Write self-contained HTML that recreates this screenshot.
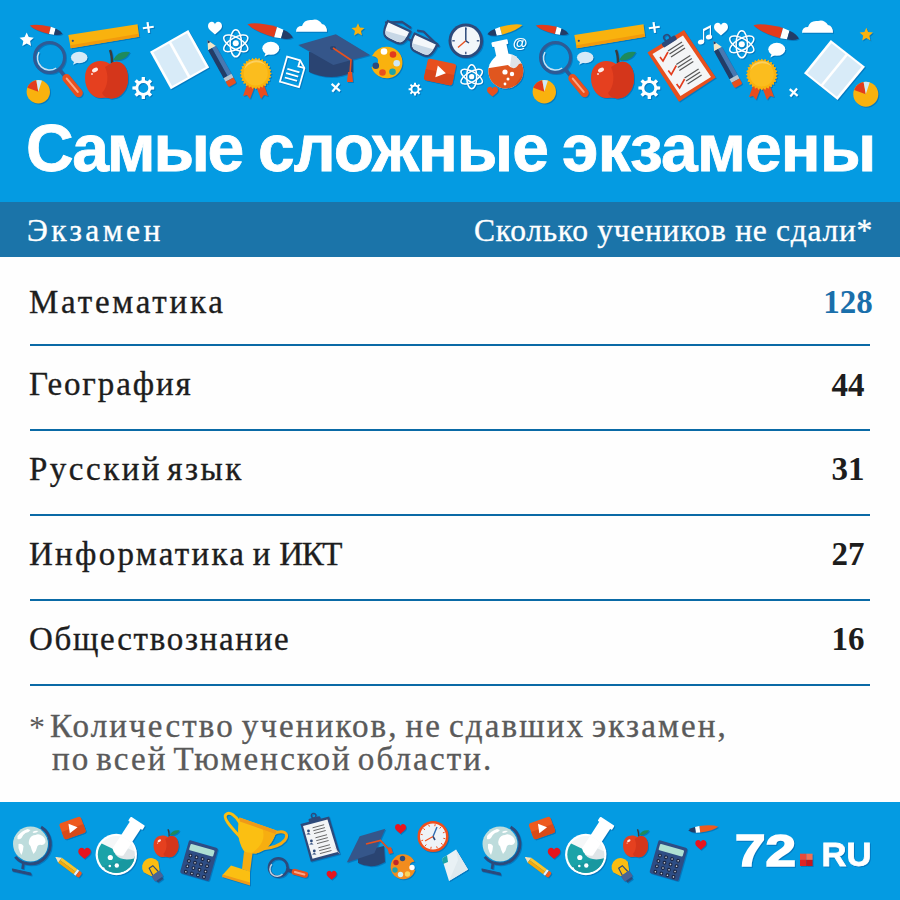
<!DOCTYPE html>
<html><head><meta charset="utf-8">
<style>
html,body{margin:0;padding:0;}
body{width:900px;height:900px;position:relative;overflow:hidden;background:#fefefe;font-family:"Liberation Serif",serif;}
.band{position:absolute;left:0;width:900px;}
#top{top:0;height:202px;background:#049be2;}
#hdr{top:202px;height:55px;background:#1b74a9;}
#foot{top:802px;height:98px;background:#049be2;}
.t{position:absolute;white-space:nowrap;line-height:1;}
.title{font-family:"Liberation Sans",sans-serif;font-weight:700;font-size:66px;color:#fff;top:115px;-webkit-text-stroke:0.8px #fff;}
.h{font-size:31.5px;color:#fff;top:215px;-webkit-text-stroke:0.35px #fff;}
.row{font-size:33px;color:#1d1d1d;left:29px;-webkit-text-stroke:0.35px #1d1d1d;}
.num{font-size:33px;font-weight:700;color:#1d1d1d;left:798px;width:100px;text-align:center;}
.line{position:absolute;left:30px;width:840px;height:2px;background:#0a6aa6;}
.note{font-size:33px;color:#5a5a5a;-webkit-text-stroke:0.35px #5a5a5a;}
svg{position:absolute;left:0;top:0;filter:drop-shadow(1px 1.2px 0.6px rgba(0,80,150,0.45));}
</style></head>
<body>
<div class="band" id="top"></div>
<div class="band" id="hdr"></div>
<div class="band" id="foot"></div>

<svg id="icons" width="900" height="900" viewBox="0 0 900 900"><g transform="translate(29.7,25.5) rotate(13.7) scale(0.993)"><path d="M0,0 Q6,-3.6 21,-3.8 L21,3.8 Q6,3.6 0,0 Z" fill="#e23b1c"/><path d="M21,-3.8 L21,3.8 L26,3.2 L26,-3.2 Z" fill="#fff"/><path d="M26,-3.2 Q31,-2.5 34,0.3 Q31,3 26,3.2 Z" fill="#233c66"/></g><polygon points="68.3,35 137.5,24.2 139.2,36.7 70.8,48.3" fill="#f9b20e" /><polygon points="70.3,45.3 138.7,33.7 139.2,36.7 70.8,48.3" fill="#f29a0c" /><circle cx="72.8" cy="40.8" r="1.1" fill="#2d4a7b"/><g transform="translate(148.3,27.5) rotate(-8)" stroke="#ffffff" stroke-width="2.2" stroke-linecap="butt"><line x1="-5.5" y1="0" x2="5.5" y2="0"/><line x1="0" y1="-5.5" x2="0" y2="5.5"/></g><circle cx="49.5" cy="57.5" r="15" fill="none" stroke="#2f5a94" stroke-width="3"/><path d="M39.0,52.2 A12.0,12.0 0 0,0 56.2,68.0" fill="none" stroke="#c9e2f3" stroke-width="1.5"/><g transform="translate(49.5,57.5) rotate(50.6)"><rect x="15" y="-1.8" width="8.8" height="3.6" fill="#2f5a94"/><rect x="22.7" y="-4.25" width="27.4" height="8.5" rx="4.25" fill="#e8501e"/><rect x="26.2" y="-1" width="19.3" height="2" rx="1" fill="#f7a88a"/></g><ellipse cx="79.2" cy="57.5" rx="8.3" ry="5.8" fill="#d6eaf7"/><path d="M74.635,60.4 L72.97500000000001,64.75 L78.37,62.14 Z" fill="#d6eaf7"/><g transform="translate(106,79) scale(1.0)"><path d="M6,-16 Q6,-24 4,-29" stroke="#3b3b3b" stroke-width="2.4" fill="none"/><path d="M7,-19 Q12,-29 24,-27 Q19,-17 7,-19 Z" fill="#1e8a5c"/><path d="M4,-15 C-4,-21 -21,-19 -21,-1 C-21,12 -12,20 -4,19 C0,18.5 2,18.5 5,19.5 C14,20 22,11 22,0 C22,-17 11,-20 4,-15 Z" fill="#e5401f"/><path d="M4,-15 C11,-20 22,-17 22,0 C22,11 14,20 5,19.5 C0,19 -3,17 -4,14 C2,8 3,-4 -1,-12 Z" fill="#d4361b"/><ellipse cx="-11" cy="-9" rx="3.2" ry="2" transform="rotate(-30 -11 -9)" fill="#fff" opacity="0.9"/><circle cx="-14" cy="-5" r="1" fill="#fff" opacity="0.8"/></g><circle cx="38.3" cy="91.7" r="11.7" fill="#f9b20e"/><path d="M38.3,91.7 L27.3,87.7 A11.7,11.7 0 0,1 36.3,80.2 Z" fill="#e23b1c"/><path d="M38.3,91.7 L36.3,80.2 A11.7,11.7 0 0,1 41.9,80.6 Z" fill="#d0ebf7"/><path d="M151.0,86.3 L154.2,86.4 L154.2,89.6 L151.0,89.7 L150.0,92.3 L152.1,94.5 L149.8,96.8 L147.6,94.7 L145.0,95.7 L144.9,98.9 L141.7,98.9 L141.6,95.7 L139.0,94.7 L136.8,96.8 L134.5,94.5 L136.6,92.3 L135.6,89.7 L132.4,89.6 L132.4,86.4 L135.6,86.3 L136.6,83.7 L134.5,81.5 L136.8,79.2 L139.0,81.3 L141.6,80.3 L141.7,77.1 L144.9,77.1 L145.0,80.3 L147.6,81.3 L149.8,79.2 L152.1,81.5 L150.0,83.7 Z M148.3,88.0 A5.0,5.0 0 1,0 138.3,88.0 A5.0,5.0 0 1,0 148.3,88.0 Z" fill="#ffffff" fill-rule="evenodd"/><g transform="translate(506,0)"><g transform="translate(29.7,25.5) rotate(13.7) scale(0.993)"><path d="M0,0 Q6,-3.6 21,-3.8 L21,3.8 Q6,3.6 0,0 Z" fill="#e23b1c"/><path d="M21,-3.8 L21,3.8 L26,3.2 L26,-3.2 Z" fill="#fff"/><path d="M26,-3.2 Q31,-2.5 34,0.3 Q31,3 26,3.2 Z" fill="#233c66"/></g><polygon points="68.3,35 137.5,24.2 139.2,36.7 70.8,48.3" fill="#f9b20e" /><polygon points="70.3,45.3 138.7,33.7 139.2,36.7 70.8,48.3" fill="#f29a0c" /><circle cx="72.8" cy="40.8" r="1.1" fill="#2d4a7b"/><g transform="translate(148.3,27.5) rotate(-8)" stroke="#ffffff" stroke-width="2.2" stroke-linecap="butt"><line x1="-5.5" y1="0" x2="5.5" y2="0"/><line x1="0" y1="-5.5" x2="0" y2="5.5"/></g><circle cx="49.5" cy="57.5" r="15" fill="none" stroke="#2f5a94" stroke-width="3"/><path d="M39.0,52.2 A12.0,12.0 0 0,0 56.2,68.0" fill="none" stroke="#c9e2f3" stroke-width="1.5"/><g transform="translate(49.5,57.5) rotate(50.6)"><rect x="15" y="-1.8" width="8.8" height="3.6" fill="#2f5a94"/><rect x="22.7" y="-4.25" width="27.4" height="8.5" rx="4.25" fill="#e8501e"/><rect x="26.2" y="-1" width="19.3" height="2" rx="1" fill="#f7a88a"/></g><ellipse cx="79.2" cy="57.5" rx="8.3" ry="5.8" fill="#d6eaf7"/><path d="M74.635,60.4 L72.97500000000001,64.75 L78.37,62.14 Z" fill="#d6eaf7"/><g transform="translate(106,79) scale(1.0)"><path d="M6,-16 Q6,-24 4,-29" stroke="#3b3b3b" stroke-width="2.4" fill="none"/><path d="M7,-19 Q12,-29 24,-27 Q19,-17 7,-19 Z" fill="#1e8a5c"/><path d="M4,-15 C-4,-21 -21,-19 -21,-1 C-21,12 -12,20 -4,19 C0,18.5 2,18.5 5,19.5 C14,20 22,11 22,0 C22,-17 11,-20 4,-15 Z" fill="#e5401f"/><path d="M4,-15 C11,-20 22,-17 22,0 C22,11 14,20 5,19.5 C0,19 -3,17 -4,14 C2,8 3,-4 -1,-12 Z" fill="#d4361b"/><ellipse cx="-11" cy="-9" rx="3.2" ry="2" transform="rotate(-30 -11 -9)" fill="#fff" opacity="0.9"/><circle cx="-14" cy="-5" r="1" fill="#fff" opacity="0.8"/></g><circle cx="38.3" cy="91.7" r="11.7" fill="#f9b20e"/><path d="M38.3,91.7 L27.3,87.7 A11.7,11.7 0 0,1 36.3,80.2 Z" fill="#e23b1c"/><path d="M38.3,91.7 L36.3,80.2 A11.7,11.7 0 0,1 41.9,80.6 Z" fill="#d0ebf7"/><path d="M151.0,86.3 L154.2,86.4 L154.2,89.6 L151.0,89.7 L150.0,92.3 L152.1,94.5 L149.8,96.8 L147.6,94.7 L145.0,95.7 L144.9,98.9 L141.7,98.9 L141.6,95.7 L139.0,94.7 L136.8,96.8 L134.5,94.5 L136.6,92.3 L135.6,89.7 L132.4,89.6 L132.4,86.4 L135.6,86.3 L136.6,83.7 L134.5,81.5 L136.8,79.2 L139.0,81.3 L141.6,80.3 L141.7,77.1 L144.9,77.1 L145.0,80.3 L147.6,81.3 L149.8,79.2 L152.1,81.5 L150.0,83.7 Z M148.3,88.0 A5.0,5.0 0 1,0 138.3,88.0 A5.0,5.0 0 1,0 148.3,88.0 Z" fill="#ffffff" fill-rule="evenodd"/></g><polygon points="26.7,32.5 28.8,37.1 33.8,37.7 30.1,41.1 31.1,46.1 26.7,43.6 22.3,46.1 23.3,41.1 19.6,37.7 24.6,37.1" fill="#ffffff"/><polygon points="358.0,23.2 359.9,27.4 364.5,27.9 361.0,31.0 362.0,35.5 358.0,33.2 354.0,35.5 355.0,31.0 351.5,27.9 356.1,27.4" fill="#f9b20e"/><polygon points="866.3,27.7 868.2,32.0 873.0,32.5 869.4,35.7 870.4,40.4 866.3,38.0 862.2,40.4 863.2,35.7 859.6,32.5 864.4,32.0" fill="#f9b20e"/><polygon points="150,51.7 188.3,30 209.2,67.5 170.8,89.2" fill="#ffffff" /><polygon points="153.3383,52.273 169.04335,43.376000000000005 187.80565,77.126 172.0637,86.023" fill="#d8ebf8" /><polygon points="171.34165000000002,42.074 187.04670000000002,33.177 205.85129999999998,66.92699999999999 190.10934999999998,75.824" fill="#d8ebf8" /><path transform="translate(215,28.8) rotate(0) scale(0.7)" d="M0,8 C-4,4 -10,1 -10,-4 C-10,-8 -7,-10 -4.5,-10 C-2,-10 0,-8 0,-6 C0,-8 2,-10 4.5,-10 C7,-10 10,-8 10,-4 C10,1 4,4 0,8 Z" fill="#ffffff"/><g transform="translate(207.5,40) rotate(60.9)"><path d="M0,0 L9.2660671268883,-4.5 L9.2660671268883,4.5 Z" fill="#f3e6c6"/><path d="M0,0 L3.243123494410905,-1.575 L3.243123494410905,1.575 Z" fill="#233c66"/><rect x="9.2660671268883" y="-4.5" width="31.9164534370597" height="4.5" fill="#4a78b0"/><rect x="9.2660671268883" y="0" width="31.9164534370597" height="4.5" fill="#233c66"/><rect x="41.182520563948" y="-4.5" width="4.118252056394802" height="9" fill="#b9c4ce"/><path d="M45.300772620342805,-4.5 L49.978150704935004,-4.5 Q51.478150704935004,-4.5 51.478150704935004,-3.0 L51.478150704935004,3.0 Q51.478150704935004,4.5 49.978150704935004,4.5 L45.300772620342805,4.5 Z" fill="#e8501e"/></g><g transform="translate(235.8,43.3)" fill="none" stroke="#ffffff" stroke-width="1.5"><ellipse cx="0" cy="0" rx="5.7" ry="13.5" transform="rotate(0)"/><ellipse cx="0" cy="0" rx="5.7" ry="13.5" transform="rotate(60)"/><ellipse cx="0" cy="0" rx="5.7" ry="13.5" transform="rotate(120)"/><circle r="3.0" fill="#ffffff" stroke="none"/></g><g transform="translate(247.5,24.2) rotate(15.7) scale(1.390)"><path d="M0,0 Q6,-3.6 21,-3.8 L21,3.8 Q6,3.6 0,0 Z" fill="#e23b1c"/><path d="M21,-3.8 L21,3.8 L26,3.2 L26,-3.2 Z" fill="#fff"/><path d="M26,-3.2 Q31,-2.5 34,0.3 Q31,3 26,3.2 Z" fill="#233c66"/></g><ellipse cx="270.8" cy="48.3" rx="8.5" ry="6.5" fill="#ffffff"/><path d="M266.125,51.55 L264.425,56.425 L269.95,53.5 Z" fill="#ffffff"/><polygon points="271.6,73.5 269.6,75.1 271.2,77.0 268.9,78.1 270.0,80.4 267.6,80.9 268.2,83.4 265.6,83.3 265.7,85.9 263.2,85.3 262.7,87.7 260.4,86.6 259.3,88.9 257.4,87.3 255.8,89.3 254.2,87.3 252.3,88.9 251.2,86.6 248.9,87.7 248.4,85.3 245.9,85.9 246.0,83.3 243.4,83.4 244.0,80.9 241.6,80.4 242.7,78.1 240.4,77.0 242.0,75.1 240.0,73.5 242.0,71.9 240.4,70.0 242.7,68.9 241.6,66.6 244.0,66.1 243.4,63.6 246.0,63.7 245.9,61.1 248.4,61.7 248.9,59.3 251.2,60.4 252.3,58.1 254.2,59.7 255.8,57.7 257.4,59.7 259.3,58.1 260.4,60.4 262.7,59.3 263.2,61.7 265.7,61.1 265.6,63.7 268.2,63.6 267.6,66.1 270.0,66.6 268.9,68.9 271.2,70.0 269.6,71.9" fill="#f9b20e"/><path d="M248,82 L243,96 L247,95 L250,99 L255,86 Z" fill="#e84d1e"/><path d="M263,82 L268,96 L264,95 L261,99 L256,86 Z" fill="#e84d1e"/><polygon points="271.6,73.5 269.6,75.1 271.2,77.0 268.9,78.1 270.0,80.4 267.6,80.9 268.2,83.4 265.6,83.3 265.7,85.9 263.2,85.3 262.7,87.7 260.4,86.6 259.3,88.9 257.4,87.3 255.8,89.3 254.2,87.3 252.3,88.9 251.2,86.6 248.9,87.7 248.4,85.3 245.9,85.9 246.0,83.3 243.4,83.4 244.0,80.9 241.6,80.4 242.7,78.1 240.4,77.0 242.0,75.1 240.0,73.5 242.0,71.9 240.4,70.0 242.7,68.9 241.6,66.6 244.0,66.1 243.4,63.6 246.0,63.7 245.9,61.1 248.4,61.7 248.9,59.3 251.2,60.4 252.3,58.1 254.2,59.7 255.8,57.7 257.4,59.7 259.3,58.1 260.4,60.4 262.7,59.3 263.2,61.7 265.7,61.1 265.6,63.7 268.2,63.6 267.6,66.1 270.0,66.6 268.9,68.9 271.2,70.0 269.6,71.9" fill="#f9b20e"/><circle cx="255.8" cy="73.5" r="12" fill="#fbbd1e"/><path d="M244,70 A12,12 0 0,1 266,66 A14,14 0 0,0 244,70 Z" fill="#fcd060"/><path d="M325,31.7 L296,31.7 Q296,26 302,26 Q304,19 312,20 Q318,18 322,24 Q327,25 327,31.7 Z" fill="#fff"/><g transform="translate(506,1)"><path transform="translate(215,28.8) rotate(0) scale(0.7)" d="M0,8 C-4,4 -10,1 -10,-4 C-10,-8 -7,-10 -4.5,-10 C-2,-10 0,-8 0,-6 C0,-8 2,-10 4.5,-10 C7,-10 10,-8 10,-4 C10,1 4,4 0,8 Z" fill="#ffffff"/><g transform="translate(207.5,40) rotate(60.9)"><path d="M0,0 L9.2660671268883,-4.5 L9.2660671268883,4.5 Z" fill="#f3e6c6"/><path d="M0,0 L3.243123494410905,-1.575 L3.243123494410905,1.575 Z" fill="#233c66"/><rect x="9.2660671268883" y="-4.5" width="31.9164534370597" height="4.5" fill="#4a78b0"/><rect x="9.2660671268883" y="0" width="31.9164534370597" height="4.5" fill="#233c66"/><rect x="41.182520563948" y="-4.5" width="4.118252056394802" height="9" fill="#b9c4ce"/><path d="M45.300772620342805,-4.5 L49.978150704935004,-4.5 Q51.478150704935004,-4.5 51.478150704935004,-3.0 L51.478150704935004,3.0 Q51.478150704935004,4.5 49.978150704935004,4.5 L45.300772620342805,4.5 Z" fill="#e8501e"/></g><g transform="translate(235.8,43.3)" fill="none" stroke="#ffffff" stroke-width="1.5"><ellipse cx="0" cy="0" rx="5.7" ry="13.5" transform="rotate(0)"/><ellipse cx="0" cy="0" rx="5.7" ry="13.5" transform="rotate(60)"/><ellipse cx="0" cy="0" rx="5.7" ry="13.5" transform="rotate(120)"/><circle r="3.0" fill="#ffffff" stroke="none"/></g><g transform="translate(247.5,24.2) rotate(15.7) scale(1.390)"><path d="M0,0 Q6,-3.6 21,-3.8 L21,3.8 Q6,3.6 0,0 Z" fill="#e23b1c"/><path d="M21,-3.8 L21,3.8 L26,3.2 L26,-3.2 Z" fill="#fff"/><path d="M26,-3.2 Q31,-2.5 34,0.3 Q31,3 26,3.2 Z" fill="#233c66"/></g><ellipse cx="270.8" cy="48.3" rx="8.5" ry="6.5" fill="#ffffff"/><path d="M266.125,51.55 L264.425,56.425 L269.95,53.5 Z" fill="#ffffff"/><polygon points="271.6,73.5 269.6,75.1 271.2,77.0 268.9,78.1 270.0,80.4 267.6,80.9 268.2,83.4 265.6,83.3 265.7,85.9 263.2,85.3 262.7,87.7 260.4,86.6 259.3,88.9 257.4,87.3 255.8,89.3 254.2,87.3 252.3,88.9 251.2,86.6 248.9,87.7 248.4,85.3 245.9,85.9 246.0,83.3 243.4,83.4 244.0,80.9 241.6,80.4 242.7,78.1 240.4,77.0 242.0,75.1 240.0,73.5 242.0,71.9 240.4,70.0 242.7,68.9 241.6,66.6 244.0,66.1 243.4,63.6 246.0,63.7 245.9,61.1 248.4,61.7 248.9,59.3 251.2,60.4 252.3,58.1 254.2,59.7 255.8,57.7 257.4,59.7 259.3,58.1 260.4,60.4 262.7,59.3 263.2,61.7 265.7,61.1 265.6,63.7 268.2,63.6 267.6,66.1 270.0,66.6 268.9,68.9 271.2,70.0 269.6,71.9" fill="#f9b20e"/><path d="M248,82 L243,96 L247,95 L250,99 L255,86 Z" fill="#e84d1e"/><path d="M263,82 L268,96 L264,95 L261,99 L256,86 Z" fill="#e84d1e"/><polygon points="271.6,73.5 269.6,75.1 271.2,77.0 268.9,78.1 270.0,80.4 267.6,80.9 268.2,83.4 265.6,83.3 265.7,85.9 263.2,85.3 262.7,87.7 260.4,86.6 259.3,88.9 257.4,87.3 255.8,89.3 254.2,87.3 252.3,88.9 251.2,86.6 248.9,87.7 248.4,85.3 245.9,85.9 246.0,83.3 243.4,83.4 244.0,80.9 241.6,80.4 242.7,78.1 240.4,77.0 242.0,75.1 240.0,73.5 242.0,71.9 240.4,70.0 242.7,68.9 241.6,66.6 244.0,66.1 243.4,63.6 246.0,63.7 245.9,61.1 248.4,61.7 248.9,59.3 251.2,60.4 252.3,58.1 254.2,59.7 255.8,57.7 257.4,59.7 259.3,58.1 260.4,60.4 262.7,59.3 263.2,61.7 265.7,61.1 265.6,63.7 268.2,63.6 267.6,66.1 270.0,66.6 268.9,68.9 271.2,70.0 269.6,71.9" fill="#f9b20e"/><circle cx="255.8" cy="73.5" r="12" fill="#fbbd1e"/><path d="M244,70 A12,12 0 0,1 266,66 A14,14 0 0,0 244,70 Z" fill="#fcd060"/><path d="M325,31.7 L296,31.7 Q296,26 302,26 Q304,19 312,20 Q318,18 322,24 Q327,25 327,31.7 Z" fill="#fff"/></g><g transform="translate(286.5,55.5) rotate(16) scale(0.9)" fill="none" stroke="#fff" stroke-width="2"><path d="M1,1 L16,1 L23,8 L23,30 L1,30 Z"/><path d="M16,1 L16,8 L23,8" /><line x1="5" y1="14" x2="19" y2="14"/><line x1="5" y1="19" x2="19" y2="19"/><line x1="5" y1="24" x2="19" y2="24"/></g><path d="M309,52 L353,54 L353,72 Q331,82 309,72 Z" fill="#2a4472"/><polygon points="298.3,45 335.8,34.2 370,55 333.3,65" fill="#35568a" /><ellipse cx="333" cy="48" rx="3" ry="2" fill="#2a4472"/><path d="M333,48 L351,60 L350,74" stroke="#e8501e" stroke-width="1.6" fill="none"/><path d="M348,72 L352,72 L353,82 L347,82 Z" fill="#e8501e"/><g transform="translate(335.8,87.5) rotate(40)" stroke="#ffffff" stroke-width="2.2" stroke-linecap="butt"><line x1="-5.5" y1="0" x2="5.5" y2="0"/><line x1="0" y1="-5.5" x2="0" y2="5.5"/></g><path d="M386.7,46.7 A15.8,15.8 0 1,1 371.5,67 Q377,66 378,62 Q379,57 372,56 A15.8,15.8 0 0,1 386.7,46.7 Z" fill="#f9b20e"/><circle cx="384" cy="51.5" r="3.3" fill="#fff"/><circle cx="393" cy="54.5" r="3.3" fill="#e23b1c"/><circle cx="396.7" cy="63.3" r="3.3" fill="#cfe8f5"/><circle cx="392.5" cy="71.7" r="3.3" fill="#1fa3a6"/><circle cx="382.5" cy="72.5" r="3.3" fill="#e8501e"/><circle cx="375.8" cy="65.8" r="3.3" fill="#2d4a7b"/><path d="M385,22.5 L402,21.8 L411,28" fill="none" stroke="#2d4a7b" stroke-width="2.2" stroke-linejoin="round"/><path d="M417,30.5 L423.5,31.5 L439,46.5" fill="none" stroke="#2d4a7b" stroke-width="2.2" stroke-linejoin="round"/><g transform="translate(396,33) rotate(25)"><path d="M-12.5,-7.5 L12.5,-7.5 Q13,2 10,6 Q8,8.5 4,8.5 L-4,8.5 Q-8,8.5 -10,6 Q-13,2 -12.5,-7.5 Z" fill="#f4f7fa" stroke="#2d4a7b" stroke-width="2.2" stroke-linejoin="round"/><path d="M-10.5,2.5 L11,-1 Q11,3 9,5.5 Q7.5,7.2 4,7.2 L-4,7.2 Q-7.5,7.2 -9,5.5 Z" fill="#c7d7e6"/></g><g transform="translate(422.8,45.5) rotate(25)"><path d="M-12.5,-7.5 L12.5,-7.5 Q13,2 10,6 Q8,8.5 4,8.5 L-4,8.5 Q-8,8.5 -10,6 Q-13,2 -12.5,-7.5 Z" fill="#f4f7fa" stroke="#2d4a7b" stroke-width="2.2" stroke-linejoin="round"/><path d="M-10.5,2.5 L11,-1 Q11,3 9,5.5 Q7.5,7.2 4,7.2 L-4,7.2 Q-7.5,7.2 -9,5.5 Z" fill="#c7d7e6"/></g><line x1="406" y1="38" x2="412" y2="41" stroke="#2d4a7b" stroke-width="2.4"/><path d="M419.6,88.2 L421.4,88.2 L421.4,90.2 L419.6,90.2 L418.9,91.7 L420.2,93.1 L418.9,94.4 L417.5,93.1 L416.0,93.8 L416.0,95.6 L414.0,95.6 L414.0,93.8 L412.5,93.1 L411.1,94.4 L409.8,93.1 L411.1,91.7 L410.4,90.2 L408.6,90.2 L408.6,88.2 L410.4,88.2 L411.1,86.7 L409.8,85.3 L411.1,84.0 L412.5,85.3 L414.0,84.6 L414.0,82.8 L416.0,82.8 L416.0,84.6 L417.5,85.3 L418.9,84.0 L420.2,85.3 L418.9,86.7 Z M417.6,89.2 A2.6,2.6 0 1,0 412.4,89.2 A2.6,2.6 0 1,0 417.6,89.2 Z" fill="#ffffff" fill-rule="evenodd"/><circle cx="465.8" cy="40.8" r="17.3" fill="#2d4a7b"/><circle cx="465.8" cy="40.8" r="14.3" fill="#f2f6fa"/><line x1="476.8" y1="40.8" x2="479.3" y2="40.8" stroke="#2d4a7b" stroke-width="1.3"/><line x1="465.8" y1="51.8" x2="465.8" y2="54.3" stroke="#2d4a7b" stroke-width="1.3"/><line x1="454.8" y1="40.8" x2="452.3" y2="40.8" stroke="#2d4a7b" stroke-width="1.3"/><line x1="465.8" y1="29.8" x2="465.8" y2="27.3" stroke="#2d4a7b" stroke-width="1.3"/><line x1="465.8" y1="40.8" x2="465.8" y2="28" stroke="#2d4a7b" stroke-width="1.5"/><line x1="465.8" y1="40.8" x2="458" y2="47.5" stroke="#e8501e" stroke-width="1.4"/><line x1="465.8" y1="40.8" x2="469" y2="43" stroke="#2d4a7b" stroke-width="1.5"/><g transform="translate(522.5,25) rotate(164.8) scale(1.067)"><path d="M0,0 Q6,-3.6 21,-3.8 L21,3.8 Q6,3.6 0,0 Z" fill="#f9b20e"/><path d="M21,-3.8 L21,3.8 L26,3.2 L26,-3.2 Z" fill="#fff"/><path d="M26,-3.2 Q31,-2.5 34,0.3 Q31,3 26,3.2 Z" fill="#233c66"/></g><text x="520" y="47.5" font-family="Liberation Sans" font-weight="700" font-size="15" fill="#fff" text-anchor="middle">@</text><g transform="rotate(-12 505.8 71)"><rect x="499.5" y="42" width="12.5" height="16" fill="#fff"/><rect x="497.5" y="40" width="16.5" height="5" rx="1" fill="#fff"/></g><circle cx="505.8" cy="71" r="17.5" fill="#fff"/><clipPath id="fl1"><circle cx="505.8" cy="71" r="17.5"/></clipPath><g clip-path="url(#fl1)"><path d="M523,52 L512,52 L510,66 Q515,73 520,66 L524,60 Z" fill="#dfe3e6"/><path d="M486,68.5 L508,65 Q514,72 519,64 L526,62 L526,92 L486,92 Z" fill="#e0561f"/><path d="M510,92 L526,70 L526,92 Z" fill="#cf4a1a"/></g><circle cx="505" cy="72" r="2.6" fill="#fff"/><circle cx="512" cy="74" r="2.2" fill="#fff"/><circle cx="508" cy="79" r="1.5" fill="#fff"/><circle cx="505" cy="84" r="1.4" fill="#fff"/><g transform="translate(440,72) rotate(12)"><rect x="-14.5" y="-11" width="29" height="22" rx="2.5" fill="#e8501e"/><path d="M-14.5,0 L14.5,0 L14.5,8.5 Q14.5,11 12,11 L-12,11 Q-14.5,11 -14.5,8.5 Z" fill="#d8451a"/><path d="M-3.5,-6 L6,0 L-3.5,6 Z" fill="#fff"/></g><g transform="translate(471.7,76.7)" fill="none" stroke="#ffffff" stroke-width="1.5"><ellipse cx="0" cy="0" rx="5.0" ry="12" transform="rotate(0)"/><ellipse cx="0" cy="0" rx="5.0" ry="12" transform="rotate(60)"/><ellipse cx="0" cy="0" rx="5.0" ry="12" transform="rotate(120)"/><circle r="2.6" fill="#ffffff" stroke="none"/></g><path transform="translate(492.5,92.2) rotate(0) scale(0.55)" d="M0,8 C-4,4 -10,1 -10,-4 C-10,-8 -7,-10 -4.5,-10 C-2,-10 0,-8 0,-6 C0,-8 2,-10 4.5,-10 C7,-10 10,-8 10,-4 C10,1 4,4 0,8 Z" fill="#e8501e"/><polygon points="647.5,52.5 684,30 715.8,77.5 679,101.7" fill="#e8501e" /><polygon points="652.5,54 683,35.5 711,77 680.5,96" fill="#f4f5f6" /><g transform="translate(669,41) rotate(-33)"><rect x="-8" y="-2" width="16" height="5" rx="1.5" fill="#2d4a7b"/><circle cx="0" cy="-4" r="3" fill="none" stroke="#2d4a7b" stroke-width="1.6"/></g><path d="M660.0,57.0 l3,4 l5,-9" stroke="#e23b1c" stroke-width="1.6" fill="none"/><g stroke="#555" stroke-width="1.2"><line x1="668.0" y1="51.0" x2="682.0" y2="42.0"/><line x1="669.5" y1="54.0" x2="683.5" y2="45.0"/><line x1="671.0" y1="57.0" x2="685.0" y2="48.0"/></g><path d="M668.3,70.5 l3,4 l5,-9" stroke="#e23b1c" stroke-width="1.6" fill="none"/><g stroke="#555" stroke-width="1.2"><line x1="676.3" y1="64.5" x2="690.3" y2="55.5"/><line x1="677.8" y1="67.5" x2="691.8" y2="58.5"/><line x1="679.3" y1="70.5" x2="693.3" y2="61.5"/></g><path d="M676.6,84.0 l3,4 l5,-9" stroke="#e23b1c" stroke-width="1.6" fill="none"/><g stroke="#555" stroke-width="1.2"><line x1="684.6" y1="78.0" x2="698.6" y2="69.0"/><line x1="686.1" y1="81.0" x2="700.1" y2="72.0"/><line x1="687.6" y1="84.0" x2="701.6" y2="75.0"/></g><g fill="#fff"><ellipse cx="701" cy="42" rx="3.2" ry="2.4" transform="rotate(-20 701 42)"/><ellipse cx="709" cy="37" rx="3.2" ry="2.4" transform="rotate(-20 709 37)"/><path d="M703,42 L703,29 L711,25 L711,37 L709.8,37 L709.8,28 L704.2,31 L704.2,42 Z"/></g><polygon points="830.8,40 865,66.7 837.5,100 804,73.3" fill="#ffffff" /><polygon points="831.5099,43.266999999999996 845.51755,54.214 821.10145,84.184 807.3521,73.237" fill="#d8ebf8" /><polygon points="847.5674499999999,55.816 861.5751,66.763 836.8629,96.73299999999999 823.11355,85.78599999999999" fill="#d8ebf8" /><circle cx="865.8" cy="94.2" r="12.5" fill="#f9b20e"/><path d="M865.8,94.2 L854.1,89.9 A12.5,12.5 0 0,1 863.6,81.9 Z" fill="#e23b1c"/><path d="M865.8,94.2 L863.6,81.9 A12.5,12.5 0 0,1 869.7,82.3 Z" fill="#d0ebf7"/><g transform="translate(793.7,92.5) rotate(40)" stroke="#ffffff" stroke-width="2.2" stroke-linecap="butt"><line x1="-5.2" y1="0" x2="5.2" y2="0"/><line x1="0" y1="-5.2" x2="0" y2="5.2"/></g><circle cx="30.5" cy="844" r="17.5" fill="#bddcdc"/><g transform="translate(30.5,844) scale(1.0)" fill="#fff"><path d="M-13,-8 Q-9,-13 -3,-15 L0,-14 Q-2,-11 -5,-11 Q-8,-9 -9,-6 Q-11,-4 -13,-5 Z"/><path d="M-12,0 Q-9,-1 -7,2 Q-7,6 -9,11 Q-11,8 -12,4 Z"/><path d="M-1,-5 Q1,-9 5,-9 Q8,-11 12,-8 Q15,-6 15,-2 Q14,1 11,1 Q9,0 7,2 Q6,7 3,10 Q1,6 0,2 Q-3,0 -1,-5 Z"/><path d="M2,-12 Q5,-14 8,-13 Q6,-11 3,-11 Z"/></g><path d="M41.1,827.0 A20,20 0 1,1 15.2,856.9" fill="none" stroke="#2d4a7b" stroke-width="2.8"/><line x1="23.5" y1="862.0" x2="22.5" y2="869.0" stroke="#2d4a7b" stroke-width="2.6"/><path d="M12.5,869.0 L30.5,873.0 L31.0,875.0 L13.0,871.0 Z" fill="#2d4a7b" stroke="#2d4a7b" stroke-width="1.2" stroke-linejoin="round"/><g transform="translate(72.5,828) rotate(-20)"><rect x="-11.5" y="-8.5" width="23" height="17" rx="2.5" fill="#ee5a1e"/><path d="M-11.5,0 L11.5,0 L11.5,6.0 Q11.5,8.5 9.0,8.5 L-9.0,8.5 Q-11.5,8.5 -11.5,6.0 Z" fill="#d94a18"/><path d="M-3.4,-4.8 L5.1,0 L-3.4,4.8 Z" fill="#fff" transform="rotate(12.0)"/></g><g transform="translate(55.5,857) rotate(36.5)"><path d="M0,0 L5.598115754430235,-3.1 L5.598115754430235,3.1 Z" fill="#f6e3bd"/><path d="M0,0 L1.959340514050582,-1.085 L1.959340514050582,1.085 Z" fill="#f6e3bd"/><rect x="5.598115754430235" y="-3.1" width="19.282398709704143" height="3.1" fill="#fbc52a"/><rect x="5.598115754430235" y="0" width="19.282398709704143" height="3.1" fill="#f2a90c"/><rect x="24.88051446413438" y="-3.1" width="2.4880514464134365" height="6.2" fill="#e8eef2"/><path d="M27.368565910547815,-3.1 L29.600643080167973,-3.1 Q31.100643080167973,-3.1 31.100643080167973,-1.6 L31.100643080167973,1.6 Q31.100643080167973,3.1 29.600643080167973,3.1 L27.368565910547815,3.1 Z" fill="#ee5a1e"/></g><path transform="translate(84.5,854) rotate(0) scale(0.625)" d="M0,8 C-4,4 -10,1 -10,-4 C-10,-8 -7,-10 -4.5,-10 C-2,-10 0,-8 0,-6 C0,-8 2,-10 4.5,-10 C7,-10 10,-8 10,-4 C10,1 4,4 0,8 Z" fill="#e8141e"/><g transform="translate(116.3,854.5) rotate(33)"><rect x="-6.5" y="-37.7" width="13" height="22" fill="#fff"/><rect x="-8.5" y="-39.7" width="17" height="5" rx="1" fill="#fff"/><circle r="20.7" fill="#fff"/></g><clipPath id="tf116"><circle cx="116.3" cy="854.5" r="18.5"/></clipPath><g clip-path="url(#tf116)"><rect x="95.6" y="833.8" width="41.4" height="41.4" fill="#f4f7f8"/><path d="M95.6,840.5 L137.0,860.5 L137.0,875.2 L95.6,875.2 Z" fill="#1ba3a8"/><path d="M95.6,868.5 L137.0,855.5 L137.0,875.2 L95.6,875.2 Z" fill="#1898a0"/><path d="M119.3,844.5 L137.0,852.5 L137.0,857.5 Q122.3,862.5 115.3,854.5 Z" fill="#dfe5e8"/><g transform="translate(116.3,854.5) rotate(33)"><path d="M-6.5,-20.7 L6.5,-20.7 L6.5,-3 Q0,3 -6.5,-3 Z" fill="#fff"/></g></g><g fill="#fff"><circle cx="110.3" cy="857.5" r="2.6"/><circle cx="116.8" cy="865.5" r="2.2"/><circle cx="109.8" cy="866.0" r="1.3"/><circle cx="103.3" cy="868.5" r="1.3"/></g><g transform="translate(165.7,846) scale(0.58)"><path d="M6,-16 Q6,-24 4,-29" stroke="#3b3b3b" stroke-width="2.4" fill="none"/><path d="M7,-19 Q12,-29 24,-27 Q19,-17 7,-19 Z" fill="#1e8a5c"/><path d="M4,-15 C-4,-21 -21,-19 -21,-1 C-21,12 -12,20 -4,19 C0,18.5 2,18.5 5,19.5 C14,20 22,11 22,0 C22,-17 11,-20 4,-15 Z" fill="#e5401f"/><path d="M4,-15 C11,-20 22,-17 22,0 C22,11 14,20 5,19.5 C0,19 -3,17 -4,14 C2,8 3,-4 -1,-12 Z" fill="#d4361b"/><ellipse cx="-11" cy="-9" rx="3.2" ry="2" transform="rotate(-30 -11 -9)" fill="#fff" opacity="0.9"/><circle cx="-14" cy="-5" r="1" fill="#fff" opacity="0.8"/></g><g transform="translate(151,867) rotate(-35) scale(1.12)"><path d="M-8,0 A8,8 0 1,1 8,0 Q6,4 4.5,7 L-4.5,7 Q-6,4 -8,0 Z" fill="#fbbd12"/><path d="M-3,7 L-2,0 L2,0 L3,7" fill="none" stroke="#2d4a7b" stroke-width="1"/><rect x="-4.5" y="7" width="9" height="6" rx="1.2" fill="#4d6394"/><rect x="-3" y="13" width="6" height="2" fill="#2d4a7b"/></g><g transform="translate(198.9,860.6) rotate(16)"><rect x="-15" y="-17.2" width="30.2" height="34.4" rx="2" fill="#2e4d84"/><rect x="-12.5" y="-14" width="25" height="6.5" rx="1" fill="#aee0d3"/><circle cx="-9.5" cy="-2.5" r="1.9" fill="#1a2540"/><circle cx="-9.5" cy="-2.5" r="0.8" fill="#c9cfdc"/><circle cx="-3.2" cy="-2.5" r="1.9" fill="#1a2540"/><circle cx="-3.2" cy="-2.5" r="0.8" fill="#c9cfdc"/><circle cx="3.1" cy="-2.5" r="1.9" fill="#1a2540"/><circle cx="3.1" cy="-2.5" r="0.8" fill="#c9cfdc"/><circle cx="9.4" cy="-2.5" r="1.9" fill="#1a2540"/><circle cx="9.4" cy="-2.5" r="0.8" fill="#c9cfdc"/><circle cx="-9.5" cy="3.1" r="1.9" fill="#1a2540"/><circle cx="-9.5" cy="3.1" r="0.8" fill="#c9cfdc"/><circle cx="-3.2" cy="3.1" r="1.9" fill="#1a2540"/><circle cx="-3.2" cy="3.1" r="0.8" fill="#c9cfdc"/><circle cx="3.1" cy="3.1" r="1.9" fill="#1a2540"/><circle cx="3.1" cy="3.1" r="0.8" fill="#c9cfdc"/><circle cx="9.4" cy="3.1" r="1.9" fill="#1a2540"/><circle cx="9.4" cy="3.1" r="0.8" fill="#c9cfdc"/><circle cx="-9.5" cy="8.7" r="1.9" fill="#1a2540"/><circle cx="-9.5" cy="8.7" r="0.8" fill="#c9cfdc"/><circle cx="-3.2" cy="8.7" r="1.9" fill="#1a2540"/><circle cx="-3.2" cy="8.7" r="0.8" fill="#c9cfdc"/><circle cx="3.1" cy="8.7" r="1.9" fill="#1a2540"/><circle cx="3.1" cy="8.7" r="0.8" fill="#c9cfdc"/><circle cx="9.4" cy="8.7" r="1.9" fill="#1a2540"/><circle cx="9.4" cy="8.7" r="0.8" fill="#c9cfdc"/><circle cx="-9.5" cy="14.3" r="1.9" fill="#1a2540"/><circle cx="-9.5" cy="14.3" r="0.8" fill="#c9cfdc"/><circle cx="-3.2" cy="14.3" r="1.9" fill="#1a2540"/><circle cx="-3.2" cy="14.3" r="0.8" fill="#c9cfdc"/><circle cx="3.1" cy="14.3" r="1.9" fill="#1a2540"/><circle cx="3.1" cy="14.3" r="0.8" fill="#c9cfdc"/><circle cx="9.4" cy="14.3" r="1.9" fill="#1a2540"/><circle cx="9.4" cy="14.3" r="0.8" fill="#c9cfdc"/></g><g transform="translate(469.5,0)"><circle cx="30.5" cy="844" r="17.5" fill="#bddcdc"/><g transform="translate(30.5,844) scale(1.0)" fill="#fff"><path d="M-13,-8 Q-9,-13 -3,-15 L0,-14 Q-2,-11 -5,-11 Q-8,-9 -9,-6 Q-11,-4 -13,-5 Z"/><path d="M-12,0 Q-9,-1 -7,2 Q-7,6 -9,11 Q-11,8 -12,4 Z"/><path d="M-1,-5 Q1,-9 5,-9 Q8,-11 12,-8 Q15,-6 15,-2 Q14,1 11,1 Q9,0 7,2 Q6,7 3,10 Q1,6 0,2 Q-3,0 -1,-5 Z"/><path d="M2,-12 Q5,-14 8,-13 Q6,-11 3,-11 Z"/></g><path d="M41.1,827.0 A20,20 0 1,1 15.2,856.9" fill="none" stroke="#2d4a7b" stroke-width="2.8"/><line x1="23.5" y1="862.0" x2="22.5" y2="869.0" stroke="#2d4a7b" stroke-width="2.6"/><path d="M12.5,869.0 L30.5,873.0 L31.0,875.0 L13.0,871.0 Z" fill="#2d4a7b" stroke="#2d4a7b" stroke-width="1.2" stroke-linejoin="round"/><g transform="translate(72.5,828) rotate(-20)"><rect x="-11.5" y="-8.5" width="23" height="17" rx="2.5" fill="#ee5a1e"/><path d="M-11.5,0 L11.5,0 L11.5,6.0 Q11.5,8.5 9.0,8.5 L-9.0,8.5 Q-11.5,8.5 -11.5,6.0 Z" fill="#d94a18"/><path d="M-3.4,-4.8 L5.1,0 L-3.4,4.8 Z" fill="#fff" transform="rotate(12.0)"/></g><g transform="translate(55.5,857) rotate(36.5)"><path d="M0,0 L5.598115754430235,-3.1 L5.598115754430235,3.1 Z" fill="#f6e3bd"/><path d="M0,0 L1.959340514050582,-1.085 L1.959340514050582,1.085 Z" fill="#f6e3bd"/><rect x="5.598115754430235" y="-3.1" width="19.282398709704143" height="3.1" fill="#fbc52a"/><rect x="5.598115754430235" y="0" width="19.282398709704143" height="3.1" fill="#f2a90c"/><rect x="24.88051446413438" y="-3.1" width="2.4880514464134365" height="6.2" fill="#e8eef2"/><path d="M27.368565910547815,-3.1 L29.600643080167973,-3.1 Q31.100643080167973,-3.1 31.100643080167973,-1.6 L31.100643080167973,1.6 Q31.100643080167973,3.1 29.600643080167973,3.1 L27.368565910547815,3.1 Z" fill="#ee5a1e"/></g><path transform="translate(84.5,854) rotate(0) scale(0.625)" d="M0,8 C-4,4 -10,1 -10,-4 C-10,-8 -7,-10 -4.5,-10 C-2,-10 0,-8 0,-6 C0,-8 2,-10 4.5,-10 C7,-10 10,-8 10,-4 C10,1 4,4 0,8 Z" fill="#e8141e"/><g transform="translate(116.3,854.5) rotate(33)"><rect x="-6.5" y="-37.7" width="13" height="22" fill="#fff"/><rect x="-8.5" y="-39.7" width="17" height="5" rx="1" fill="#fff"/><circle r="20.7" fill="#fff"/></g><clipPath id="tf116"><circle cx="116.3" cy="854.5" r="18.5"/></clipPath><g clip-path="url(#tf116)"><rect x="95.6" y="833.8" width="41.4" height="41.4" fill="#f4f7f8"/><path d="M95.6,840.5 L137.0,860.5 L137.0,875.2 L95.6,875.2 Z" fill="#1ba3a8"/><path d="M95.6,868.5 L137.0,855.5 L137.0,875.2 L95.6,875.2 Z" fill="#1898a0"/><path d="M119.3,844.5 L137.0,852.5 L137.0,857.5 Q122.3,862.5 115.3,854.5 Z" fill="#dfe5e8"/><g transform="translate(116.3,854.5) rotate(33)"><path d="M-6.5,-20.7 L6.5,-20.7 L6.5,-3 Q0,3 -6.5,-3 Z" fill="#fff"/></g></g><g fill="#fff"><circle cx="110.3" cy="857.5" r="2.6"/><circle cx="116.8" cy="865.5" r="2.2"/><circle cx="109.8" cy="866.0" r="1.3"/><circle cx="103.3" cy="868.5" r="1.3"/></g><g transform="translate(165.7,846) scale(0.58)"><path d="M6,-16 Q6,-24 4,-29" stroke="#3b3b3b" stroke-width="2.4" fill="none"/><path d="M7,-19 Q12,-29 24,-27 Q19,-17 7,-19 Z" fill="#1e8a5c"/><path d="M4,-15 C-4,-21 -21,-19 -21,-1 C-21,12 -12,20 -4,19 C0,18.5 2,18.5 5,19.5 C14,20 22,11 22,0 C22,-17 11,-20 4,-15 Z" fill="#e5401f"/><path d="M4,-15 C11,-20 22,-17 22,0 C22,11 14,20 5,19.5 C0,19 -3,17 -4,14 C2,8 3,-4 -1,-12 Z" fill="#d4361b"/><ellipse cx="-11" cy="-9" rx="3.2" ry="2" transform="rotate(-30 -11 -9)" fill="#fff" opacity="0.9"/><circle cx="-14" cy="-5" r="1" fill="#fff" opacity="0.8"/></g><g transform="translate(151,867) rotate(-35) scale(1.12)"><path d="M-8,0 A8,8 0 1,1 8,0 Q6,4 4.5,7 L-4.5,7 Q-6,4 -8,0 Z" fill="#fbbd12"/><path d="M-3,7 L-2,0 L2,0 L3,7" fill="none" stroke="#2d4a7b" stroke-width="1"/><rect x="-4.5" y="7" width="9" height="6" rx="1.2" fill="#4d6394"/><rect x="-3" y="13" width="6" height="2" fill="#2d4a7b"/></g><g transform="translate(198.9,860.6) rotate(16)"><rect x="-15" y="-17.2" width="30.2" height="34.4" rx="2" fill="#2e4d84"/><rect x="-12.5" y="-14" width="25" height="6.5" rx="1" fill="#aee0d3"/><circle cx="-9.5" cy="-2.5" r="1.9" fill="#1a2540"/><circle cx="-9.5" cy="-2.5" r="0.8" fill="#c9cfdc"/><circle cx="-3.2" cy="-2.5" r="1.9" fill="#1a2540"/><circle cx="-3.2" cy="-2.5" r="0.8" fill="#c9cfdc"/><circle cx="3.1" cy="-2.5" r="1.9" fill="#1a2540"/><circle cx="3.1" cy="-2.5" r="0.8" fill="#c9cfdc"/><circle cx="9.4" cy="-2.5" r="1.9" fill="#1a2540"/><circle cx="9.4" cy="-2.5" r="0.8" fill="#c9cfdc"/><circle cx="-9.5" cy="3.1" r="1.9" fill="#1a2540"/><circle cx="-9.5" cy="3.1" r="0.8" fill="#c9cfdc"/><circle cx="-3.2" cy="3.1" r="1.9" fill="#1a2540"/><circle cx="-3.2" cy="3.1" r="0.8" fill="#c9cfdc"/><circle cx="3.1" cy="3.1" r="1.9" fill="#1a2540"/><circle cx="3.1" cy="3.1" r="0.8" fill="#c9cfdc"/><circle cx="9.4" cy="3.1" r="1.9" fill="#1a2540"/><circle cx="9.4" cy="3.1" r="0.8" fill="#c9cfdc"/><circle cx="-9.5" cy="8.7" r="1.9" fill="#1a2540"/><circle cx="-9.5" cy="8.7" r="0.8" fill="#c9cfdc"/><circle cx="-3.2" cy="8.7" r="1.9" fill="#1a2540"/><circle cx="-3.2" cy="8.7" r="0.8" fill="#c9cfdc"/><circle cx="3.1" cy="8.7" r="1.9" fill="#1a2540"/><circle cx="3.1" cy="8.7" r="0.8" fill="#c9cfdc"/><circle cx="9.4" cy="8.7" r="1.9" fill="#1a2540"/><circle cx="9.4" cy="8.7" r="0.8" fill="#c9cfdc"/><circle cx="-9.5" cy="14.3" r="1.9" fill="#1a2540"/><circle cx="-9.5" cy="14.3" r="0.8" fill="#c9cfdc"/><circle cx="-3.2" cy="14.3" r="1.9" fill="#1a2540"/><circle cx="-3.2" cy="14.3" r="0.8" fill="#c9cfdc"/><circle cx="3.1" cy="14.3" r="1.9" fill="#1a2540"/><circle cx="3.1" cy="14.3" r="0.8" fill="#c9cfdc"/><circle cx="9.4" cy="14.3" r="1.9" fill="#1a2540"/><circle cx="9.4" cy="14.3" r="0.8" fill="#c9cfdc"/></g></g><g><path d="M241,838 C233,829 222,818 226,814.5 C229.5,811 236,816 240,823" fill="none" stroke="#fbbf12" stroke-width="3"/><path d="M273,834 C283,829 290,833 285,840 C281,845 272,848 262,849" fill="none" stroke="#f6ab12" stroke-width="3"/><path d="M239.5,817.5 L276.5,830.5 C274,842 266,851 256,853.5 L246,853.5 C239,846 236,832 239.5,817.5 Z" fill="#fbbf12"/><path d="M262,827 L276.5,830.5 C274,842 266,851 256,853.5 L252,853 C262,846 266,838 262,827 Z" fill="#f7ae10"/><path d="M239.5,817.5 L276.5,830.5 L275.5,834 L239.8,821.5 Z" fill="#ef9a18"/><path d="M244,852 L252.5,853 L250,872 L242,869 Z" fill="#f6ad12"/><path d="M231,865.5 L250,871.5 L250,884 L222.5,875 Z" fill="#fbbf12"/><path d="M222.5,874.5 L250,882.5 L250,885.5 L222,877 Z" fill="#ef9a18"/></g><circle cx="278.3" cy="867.5" r="9.3" fill="none" stroke="#2d4a7b" stroke-width="2.6"/><path d="M271.8,864.2 A6.3,6.3 0 0,0 282.5,874.0" fill="none" stroke="#c3d4e2" stroke-width="1.5"/><g transform="translate(278.3,867.5) rotate(15.1)"><rect x="9.3" y="-1.8" width="5.4" height="3.6" fill="#2d4a7b"/><rect x="14.0" y="-3.0" width="16.8" height="6" rx="3.0" fill="#e8501e"/><rect x="16.2" y="-1" width="11.8" height="2" rx="1" fill="#f7a88a"/></g><polygon points="300.4,824 329.1,816.6 340.1,853.9 310.8,861.8" fill="#2d4a7b" /><polygon points="303,826 327.5,819.5 337.5,852 312.5,858.8" fill="#f2f4f6" /><g transform="translate(314.5,819) rotate(-15)"><rect x="-6" y="-1.5" width="12" height="3.5" rx="1" fill="#2d4a7b"/><circle cx="0" cy="-3.5" r="2.3" fill="none" stroke="#2d4a7b" stroke-width="1.3"/></g><circle cx="308.5" cy="831" r="1.4" fill="#2d4a7b"/><path d="M306.3,834.5 Q308.5,831.5 310.7,834.5 Z" fill="#2d4a7b"/><g stroke="#666" stroke-width="0.9" transform="rotate(-15 308.5 832)"><line x1="313.5" y1="829" x2="325.5" y2="829"/><line x1="313.5" y1="832" x2="325.5" y2="832"/><line x1="313.5" y1="835" x2="325.5" y2="835"/></g><circle cx="311.4" cy="841" r="1.4" fill="#2d4a7b"/><path d="M309.2,844.5 Q311.4,841.5 313.59999999999997,844.5 Z" fill="#2d4a7b"/><g stroke="#666" stroke-width="0.9" transform="rotate(-15 311.4 842)"><line x1="316.4" y1="839" x2="328.4" y2="839"/><line x1="316.4" y1="842" x2="328.4" y2="842"/><line x1="316.4" y1="845" x2="328.4" y2="845"/></g><circle cx="314.3" cy="851" r="1.4" fill="#2d4a7b"/><path d="M312.1,854.5 Q314.3,851.5 316.5,854.5 Z" fill="#2d4a7b"/><g stroke="#666" stroke-width="0.9" transform="rotate(-15 314.3 852)"><line x1="319.3" y1="849" x2="331.3" y2="849"/><line x1="319.3" y1="852" x2="331.3" y2="852"/><line x1="319.3" y1="855" x2="331.3" y2="855"/></g><path d="M337.5,852 L333,845 L340.1,853.9 Z" fill="#c9ced6"/><path transform="translate(331.6,875.8) rotate(0) scale(0.5)" d="M0,8 C-4,4 -10,1 -10,-4 C-10,-8 -7,-10 -4.5,-10 C-2,-10 0,-8 0,-6 C0,-8 2,-10 4.5,-10 C7,-10 10,-8 10,-4 C10,1 4,4 0,8 Z" fill="#e8141e"/><path d="M358,852 L384,846 L385,862 Q372,870 358,863 Z" fill="#2a4472"/><polygon points="346.8,862.5 359.7,836.2 385.3,828.8 374.3,853.3" fill="#35568a" /><path d="M366,844 L380.5,840.5 L390.5,851" stroke="#e8501e" stroke-width="1.6" fill="none"/><path d="M387.5,848 L391,847 L393,853 L389,854 Z" fill="#e8501e"/><path transform="translate(400.5,829.5) rotate(0) scale(0.55)" d="M0,8 C-4,4 -10,1 -10,-4 C-10,-8 -7,-10 -4.5,-10 C-2,-10 0,-8 0,-6 C0,-8 2,-10 4.5,-10 C7,-10 10,-8 10,-4 C10,1 4,4 0,8 Z" fill="#e8141e"/><path d="M414.5,861.5 A12.5,12.5 0 1,0 415.3,869.5 Q411,870.5 410,866 Q409.5,862 414.5,861.5 Z" fill="#f28c1e"/><circle cx="402.5" cy="858.5" r="2.7" fill="#2d4a7b"/><circle cx="396" cy="862.5" r="2.7" fill="#c0262b"/><circle cx="395" cy="870" r="2.7" fill="#1fa3b0"/><circle cx="400.5" cy="874.5" r="2.7" fill="#cfeff7"/><circle cx="407.5" cy="874" r="2.7" fill="#fbd45a"/><circle cx="412" cy="867.5" r="2.7" fill="#ffffff"/><circle cx="433" cy="836.5" r="15.5" fill="#f04e1b"/><circle cx="433" cy="836.5" r="13" fill="#eef3f7"/><line x1="443.3" y1="838.3" x2="445.3" y2="838.7" stroke="#f04e1b" stroke-width="1"/><line x1="441.0" y1="843.2" x2="442.6" y2="844.5" stroke="#f04e1b" stroke-width="1"/><line x1="436.6" y1="846.4" x2="437.3" y2="848.2" stroke="#f04e1b" stroke-width="1"/><line x1="431.2" y1="846.8" x2="430.8" y2="848.8" stroke="#f04e1b" stroke-width="1"/><line x1="426.3" y1="844.5" x2="425.0" y2="846.1" stroke="#f04e1b" stroke-width="1"/><line x1="423.1" y1="840.1" x2="421.3" y2="840.8" stroke="#f04e1b" stroke-width="1"/><line x1="422.7" y1="834.7" x2="420.7" y2="834.3" stroke="#f04e1b" stroke-width="1"/><line x1="425.0" y1="829.8" x2="423.4" y2="828.5" stroke="#f04e1b" stroke-width="1"/><line x1="429.4" y1="826.6" x2="428.7" y2="824.8" stroke="#f04e1b" stroke-width="1"/><line x1="434.8" y1="826.2" x2="435.2" y2="824.2" stroke="#f04e1b" stroke-width="1"/><line x1="439.7" y1="828.5" x2="441.0" y2="826.9" stroke="#f04e1b" stroke-width="1"/><line x1="442.9" y1="832.9" x2="444.7" y2="832.2" stroke="#f04e1b" stroke-width="1"/><line x1="433" y1="836.5" x2="437" y2="827" stroke="#2d6ab0" stroke-width="1.4"/><line x1="433" y1="836.5" x2="435" y2="840" stroke="#2d4a7b" stroke-width="1.6"/><line x1="433" y1="836.5" x2="425" y2="841" stroke="#f04e1b" stroke-width="1.1"/><polygon points="442,858.5 456,849.5 468,869.5 449,881" fill="#e9f1f5" /><polygon points="456,849.5 468,869.5 449,881 458,860" fill="#dfe9ee" /><path d="M442,858.5 L447,855.3 L448,862 L443,864 Z" fill="#1ba3a8"/><g transform="translate(718.3,826.7) rotate(172.2) scale(0.891)"><path d="M0,0 Q6,-3.6 21,-3.8 L21,3.8 Q6,3.6 0,0 Z" fill="#ee5a1e"/><path d="M21,-3.8 L21,3.8 L26,3.2 L26,-3.2 Z" fill="#fff"/><path d="M26,-3.2 Q31,-2.5 34,0.3 Q31,3 26,3.2 Z" fill="#233c66"/></g><path transform="translate(700.8,845.5) rotate(0) scale(0.55)" d="M0,8 C-4,4 -10,1 -10,-4 C-10,-8 -7,-10 -4.5,-10 C-2,-10 0,-8 0,-6 C0,-8 2,-10 4.5,-10 C7,-10 10,-8 10,-4 C10,1 4,4 0,8 Z" fill="#e8141e"/><text x="735" y="866" font-family="Liberation Sans" font-weight="700" font-size="43.5" fill="#fff" stroke="#fff" stroke-width="1.6" textLength="61" lengthAdjust="spacingAndGlyphs">72</text><rect x="800" y="853.7" width="6.3" height="6.2" fill="#ea4a3a"/><rect x="806.3" y="853.7" width="6.3" height="6.2" fill="#f27054"/><rect x="800" y="859.9" width="6.3" height="6.1" fill="#e22222"/><rect x="806.3" y="859.9" width="6.3" height="6.1" fill="#c8161c"/><text x="821.5" y="866" font-family="Liberation Sans" font-weight="700" font-size="33.5" fill="#fff" stroke="#fff" stroke-width="0.8" textLength="50" lengthAdjust="spacingAndGlyphs">RU</text></svg><!--endicons-->
<div class="t title" style="left:26px;letter-spacing:-2.2px;">Самые</div><div class="t title" style="left:258px;letter-spacing:-1px;">сложные</div><div class="t title" style="left:562px;letter-spacing:-0.8px;">экзамены</div>
<div class="t h" style="left:27px;letter-spacing:3.4px;">Экзамен</div>
<div class="t h" style="right:27px;letter-spacing:0.72px;">Сколько учеников не сдали*</div>

<div class="t row" style="top:286px;letter-spacing:2.78px;">Математика</div>
<div class="t num" style="top:286px;color:#1a6fab;">128</div>
<div class="line" style="top:344px;"></div>
<div class="t row" style="top:368px;letter-spacing:1.88px;">География</div>
<div class="t num" style="top:369px;">44</div>
<div class="line" style="top:429px;"></div>
<div class="t row" style="top:453px;letter-spacing:2.5px;word-spacing:-5.5px;">Русский язык</div>
<div class="t num" style="top:453px;">31</div>
<div class="line" style="top:514px;"></div>
<div class="t row" style="top:538px;letter-spacing:2.29px;word-spacing:-4px;">Информатика и <span style="letter-spacing:-1.5px">ИКТ</span></div>
<div class="t num" style="top:538px;">27</div>
<div class="line" style="top:599px;"></div>
<div class="t row" style="top:623px;letter-spacing:1.69px;">Обществознание</div>
<div class="t num" style="top:623px;">16</div>
<div class="line" style="top:684px;"></div>

<div class="t note" style="left:29px;top:711px;font-size:32px;-webkit-text-stroke:0;">*</div><div class="t note" style="left:50px;top:710px;letter-spacing:2.13px;word-spacing:-3.5px;">Количество учеников, не сдавших экзамен,</div>
<div class="t note" style="left:52px;top:743px;letter-spacing:2.14px;word-spacing:-4.5px;">по всей Тюменской области.</div>

</body></html>
